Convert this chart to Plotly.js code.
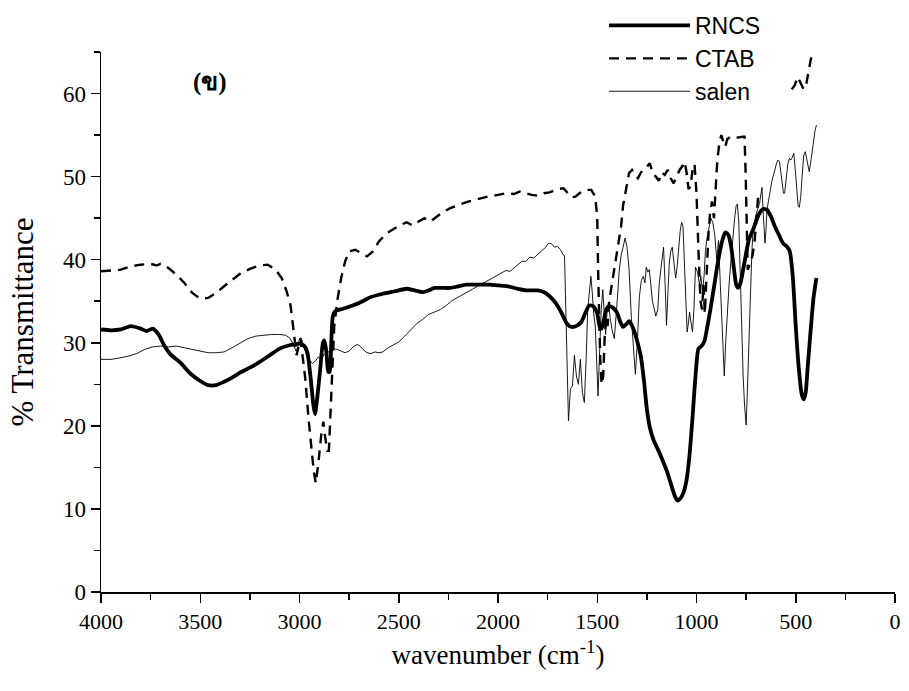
<!DOCTYPE html>
<html>
<head>
<meta charset="utf-8">
<script src="https://cdn.plot.ly/plotly-3.0.1.min.js"></script>
<style>html,body{margin:0;padding:0;background:#fff;}#chart{width:909px;height:691px;}</style>
</head>
<body>
<div id="chart"></div>
<script>
const seriesNames = ["RNCS", "CTAB", "salen"];

const rncsX = [4000,3950,3900,3850,3800,3770,3740,3710,3680,3650,3600,3550,3500,3460,3420,3380,3340,3300,3250,3200,3150,3100,3050,3000,2975,2960,2945,2930,2922,2910,2895,2882,2875,2865,2855,2848,2840,2832,2820,2780,2700,2640,2580,2520,2460,2420,2380,2350,2320,2280,2240,2200,2160,2100,2040,2000,1950,1900,1850,1800,1770,1740,1710,1680,1660,1640,1620,1600,1580,1560,1540,1520,1500,1488,1478,1468,1455,1440,1420,1400,1385,1370,1355,1340,1320,1300,1280,1265,1250,1235,1215,1195,1170,1150,1130,1110,1095,1080,1065,1050,1035,1020,1005,990,975,960,945,930,910,890,870,855,840,825,812,800,790,778,765,750,735,715,700,685,665,645,625,605,585,565,545,530,515,500,485,470,460,450,440,425,410,396];
const rncsY = [31.6,31.5,31.6,32.0,31.7,31.4,31.7,31.0,29.6,28.6,27.6,26.3,25.4,24.9,24.9,25.3,25.8,26.4,27.0,27.7,28.5,29.3,29.7,29.9,29.6,28.8,26.0,22.5,21.4,23.5,27.0,30.0,30.3,29.0,26.5,26.5,30.0,33.2,33.8,34.1,34.8,35.5,35.9,36.2,36.5,36.3,36.1,36.3,36.6,36.6,36.6,36.8,37.0,37.0,37.0,36.9,36.8,36.5,36.3,36.3,36.1,35.6,34.8,33.6,32.6,32.0,31.9,32.1,32.5,33.6,34.5,34.4,33.5,32.0,31.7,32.6,34.0,34.4,34.2,33.6,32.6,31.9,32.2,32.6,31.8,30.3,28.3,25.5,22.0,19.8,18.2,17.2,15.8,14.6,13.1,11.6,11.0,11.3,12.0,13.5,16.5,21.0,26.0,29.3,29.6,30.2,32.0,34.0,37.0,40.0,42.3,43.3,43.0,41.5,39.0,37.0,36.6,37.2,38.8,40.8,42.5,43.6,44.6,45.5,46.1,46.0,45.2,44.0,43.0,42.0,41.6,41.0,38.0,32.0,27.0,23.8,23.2,24.0,27.0,31.5,35.5,37.8];

const ctabX = [4000,3950,3900,3850,3800,3750,3720,3700,3660,3620,3580,3540,3500,3460,3420,3380,3340,3300,3250,3200,3160,3120,3090,3065,3045,3030,3015,3005,2995,2985,2970,2955,2940,2928,2918,2905,2890,2880,2870,2860,2852,2845,2835,2825,2810,2790,2770,2750,2720,2690,2660,2630,2600,2560,2520,2490,2460,2430,2400,2370,2340,2310,2280,2240,2200,2150,2100,2050,2000,1960,1920,1890,1860,1830,1800,1770,1740,1700,1670,1650,1630,1610,1590,1560,1530,1510,1500,1495,1490,1485,1478,1470,1462,1455,1448,1440,1430,1420,1410,1400,1390,1380,1370,1355,1340,1325,1310,1295,1280,1265,1250,1235,1220,1205,1190,1175,1160,1145,1130,1115,1100,1085,1070,1060,1050,1040,1030,1020,1010,1000,990,980,972,965,958,950,940,932,922,912,905,895,885,875,865,855,845,830,810,790,770,758,752,747,742,730,718,708,698,690,600,520,505,490,475,460,448,438,425,412];
const ctabY = [38.6,38.7,38.8,39.2,39.4,39.5,39.3,39.5,39.0,38.2,37.2,36.0,35.3,35.4,36.0,36.8,37.5,38.3,38.9,39.3,39.4,38.8,37.8,36.2,34.5,31.5,28.5,29.5,30.5,28.5,25.5,21.0,17.0,14.5,13.1,15.5,19.0,20.5,18.5,17.0,17.0,21.0,27.5,32.0,35.0,37.8,39.8,41.0,41.2,40.8,40.4,41.0,42.2,43.2,43.8,44.2,44.5,44.1,44.6,45.0,44.6,45.2,45.7,46.2,46.6,47.0,47.3,47.6,47.8,48.0,47.9,48.2,48.0,47.8,47.7,48.0,48.1,48.5,48.6,48.0,47.5,47.6,48.0,48.4,48.4,47.6,45.0,38.0,33.0,28.0,25.0,26.0,31.0,33.0,32.0,35.0,36.5,38.0,39.5,41.5,42.5,44.0,46.5,48.5,50.4,50.8,50.3,49.8,50.5,50.8,51.2,51.6,50.4,50.0,49.5,50.5,50.2,50.8,49.8,49.2,50.0,50.8,51.3,51.8,50.5,48.5,48.8,50.8,51.5,48.0,41.0,35.0,34.0,37.0,33.5,38.0,43.0,45.5,47.0,45.0,48.0,52.0,54.0,55.0,54.2,53.6,54.5,54.8,54.8,54.7,54.8,54.8,50.0,43.0,38.8,39.5,40.5,42.0,45.0,47.5,null,60.5,61.0,62.0,61.3,60.5,61.0,62.5,64.0,65.2];

const salenX = [4000,3950,3900,3860,3820,3780,3740,3700,3660,3620,3580,3540,3500,3460,3420,3380,3340,3300,3260,3220,3180,3140,3100,3070,3050,3030,3018,3010,3000,2992,2980,2965,2950,2935,2920,2905,2890,2875,2860,2845,2830,2810,2790,2770,2750,2730,2710,2695,2680,2660,2640,2620,2600,2580,2560,2530,2500,2470,2440,2410,2380,2350,2320,2290,2260,2230,2200,2170,2140,2110,2080,2050,2020,1990,1960,1940,1920,1900,1880,1860,1840,1820,1800,1780,1760,1745,1730,1715,1700,1685,1672,1665,1655,1645,1635,1625,1615,1605,1595,1585,1575,1565,1556,1548,1540,1532,1525,1518,1510,1503,1496,1488,1480,1472,1465,1458,1450,1443,1435,1425,1414,1405,1398,1390,1380,1370,1360,1350,1340,1328,1318,1308,1298,1288,1278,1268,1260,1253,1245,1238,1230,1222,1215,1205,1195,1188,1180,1172,1166,1158,1151,1144,1137,1130,1122,1113,1105,1098,1090,1082,1075,1068,1060,1052,1047,1040,1035,1028,1020,1013,1005,995,985,978,970,962,955,947,938,928,918,908,898,889,880,874,866,860,853,845,836,826,816,808,800,794,787,780,772,765,758,750,744,737,729,721,714,706,698,690,682,675,670,665,660,655,650,645,638,630,620,612,605,598,590,582,575,568,562,556,548,540,532,525,518,510,503,495,488,482,475,468,460,452,445,438,432,426,420,414,408,403,396];
const salenY = [28.0,28.0,28.2,28.4,28.7,29.2,29.5,29.6,29.5,29.6,29.4,29.2,29.0,28.8,28.8,28.9,29.4,30.0,30.5,30.8,30.9,31.0,31.0,30.9,30.6,29.8,29.0,29.4,30.5,30.6,29.7,28.5,27.9,27.5,27.8,28.3,28.1,28.6,28.8,29.0,29.3,29.2,29.0,28.8,29.0,29.5,29.8,29.6,29.2,28.8,28.7,28.9,28.8,28.9,29.3,29.7,30.1,30.8,31.6,32.3,32.8,33.4,33.7,34.0,34.5,35.1,35.5,35.9,36.3,36.6,37.0,37.4,37.8,38.3,38.7,38.6,39.0,39.4,39.8,39.8,40.3,40.2,40.6,41.0,41.5,42.0,41.9,41.5,41.6,41.2,40.6,40.5,30.0,20.6,24.5,24.8,28.5,26.0,25.0,28.0,24.0,22.8,28.0,34.0,36.0,38.0,36.0,33.5,32.0,27.0,23.6,29.0,34.0,36.4,33.0,31.0,34.0,34.8,33.0,31.5,30.5,33.0,35.5,38.5,40.5,41.5,42.6,41.5,39.0,33.0,29.0,26.2,30.0,35.5,37.5,38.0,37.2,39.1,38.5,38.8,37.0,35.0,34.3,33.2,34.0,37.0,38.8,40.5,41.5,37.0,32.1,36.0,39.6,41.0,41.5,39.5,37.8,39.0,41.5,43.5,44.5,44.0,39.0,33.0,31.3,32.5,33.7,32.5,31.3,34.0,39.1,38.5,37.0,38.0,36.2,38.0,41.0,42.6,44.0,45.0,44.5,43.0,40.0,42.3,37.0,33.7,28.5,26.0,30.0,34.0,37.0,40.0,43.0,45.0,46.5,46.7,44.5,38.0,32.0,26.0,22.5,20.1,24.0,30.0,36.0,41.0,43.9,45.0,45.6,46.2,46.8,48.0,48.7,46.0,44.0,42.0,43.5,46.0,47.0,48.2,49.5,50.2,51.0,51.5,52.0,51.8,50.5,49.0,48.0,48.0,50.0,51.5,52.2,52.0,52.3,52.8,51.0,48.5,46.5,46.3,47.5,50.0,52.5,53.0,52.0,51.0,50.6,51.5,52.5,54.0,54.5,55.5,56.2];

const xTickVals = [4000,3500,3000,2500,2000,1500,1000,500,0];
const xTickText = ["4000","3500","3000","2500","2000","1500","1000","500","0"];
const yTickVals = [0,10,20,30,40,50,60];
const yTickText = ["0","10","20","30","40","50","60"];

const serif = "Liberation Serif";
const sans = "Liberation Sans";

const traces = [
  {x: rncsX, y: rncsY, name: seriesNames[0], type: "scatter", mode: "lines",
   line: {color: "#000", width: 3.8, shape: "spline", smoothing: 0.6}},
  {x: ctabX, y: ctabY, name: seriesNames[1], type: "scatter", mode: "lines", connectgaps: false,
   line: {color: "#000", width: 2.4, dash: "10px,7px"}},
  {x: salenX, y: salenY, name: seriesNames[2], type: "scatter", mode: "lines",
   line: {color: "#000", width: 0.9}}
];

const layout = {
  width: 909, height: 691,
  margin: {l: 101, r: 14, t: 52, b: 99, pad: 0, autoexpand: false},
  paper_bgcolor: "#fff", plot_bgcolor: "rgba(0,0,0,0)",
  font: {family: serif, color: "#000"},
  showlegend: true,
  legend: {x: (604 - 101) / 794, y: (592 - 4) / 540,
           xanchor: "left", yanchor: "top",
           bgcolor: "rgba(255,255,255,0)", borderwidth: 0, itemwidth: 81,
           font: {family: sans, size: 23, color: "#000"}, tracegroupgap: 0},
  xaxis: {range: [4000, 0], showgrid: false, zeroline: false, showline: true,
          linecolor: "#000", linewidth: 1.5, ticks: "outside", ticklen: 9, tickwidth: 1.5,
          tickcolor: "#000", tickvals: xTickVals, ticktext: xTickText,
          tickfont: {family: serif, size: 22, color: "#000"},
          minor: {dtick: 250, tick0: 0, ticks: "outside", ticklen: 6, tickwidth: 1.5, tickcolor: "#000", showgrid: false},
          title: {text: "wavenumber (cm<sup>-1</sup>)", font: {family: serif, size: 27, color: "#000"}, standoff: 12}},
  yaxis: {range: [0, 65], showgrid: false, zeroline: false, showline: true,
          linecolor: "#000", linewidth: 1.5, ticks: "outside", ticklen: 9, tickwidth: 1.5,
          tickcolor: "#000", tickvals: yTickVals, ticktext: yTickText,
          tickfont: {family: serif, size: 23, color: "#000"},
          minor: {dtick: 5, tick0: 0, ticks: "outside", ticklen: 6, tickwidth: 1.5, tickcolor: "#000", showgrid: false},
          title: {text: "% Transmittance", font: {family: serif, size: 31, color: "#000"}, standoff: 20}},
  annotations: [
    {x: 3450, y: 61.4, xref: "x", yref: "y", text: "<b>(ข)</b>", showarrow: false,
     font: {family: serif, size: 25, color: "#000"}}
  ]
};

Plotly.newPlot("chart", traces, layout, {displayModeBar: false, staticPlot: true});
</script>
</body>
</html>
